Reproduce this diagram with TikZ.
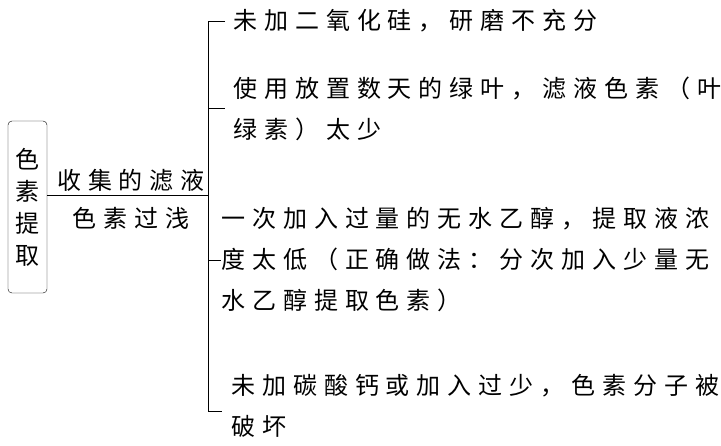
\documentclass[tikz,border=0pt]{standalone}
\usepackage{fontspec}
\newfontfamily\cjk[LetterSpace=29]{Noto Sans CJK SC}
\newfontfamily\cjkplain{Noto Sans CJK SC}
\begin{document}
\begin{tikzpicture}[x=1pt, y=-1pt,
  txt/.style={font=\cjk\fontsize{24}{41}\selectfont, inner sep=0pt},
  item/.style={txt, anchor=west, align=left}]
  \useasboundingbox (0,0) rectangle (721,445);
  \node[draw, rounded corners=4pt, minimum width=39pt, minimum height=172pt, inner sep=0pt,
        align=center, font=\cjkplain\fontsize{24}{32}\selectfont] (tiqu) at (27.5,207) {色\\素\\提\\取};
  \coordinate (fork) at (208,195);
  \draw (tiqu.east |- fork) -- (fork);
  \node[txt] (shouji) at (131,180) {收集的滤液};
  \node[txt] (guoqian) at (131,218) {色素过浅};
  \coordinate (k1) at (208,21);  \coordinate (e1) at (225,21);
  \coordinate (k2) at (208,108); \coordinate (e2) at (225,108);
  \coordinate (k3) at (208,260); \coordinate (e3) at (221,260);
  \coordinate (k4) at (208,411); \coordinate (e4) at (222,411);
  \draw (e1) -- (k1) -- (k4) -- (e4) (k2) -- (e2) (k3) -- (e3);
  \node[item] (yuan1) at (233,21) {未加二氧化硅，研磨不充分};
  \node[item] (yuan2) at (233,109) {使用放置数天的绿叶，滤液色素（叶\\绿素）太少};
  \node[item] (yuan3) at (221,260) {一次加入过量的无水乙醇，提取液浓\\度太低（正确做法：分次加入少量无\\水乙醇提取色素）};
  \node[item] (yuan4) at (231,406) {未加碳酸钙或加入过少，色素分子被\\破坏};
\end{tikzpicture}
\end{document}
